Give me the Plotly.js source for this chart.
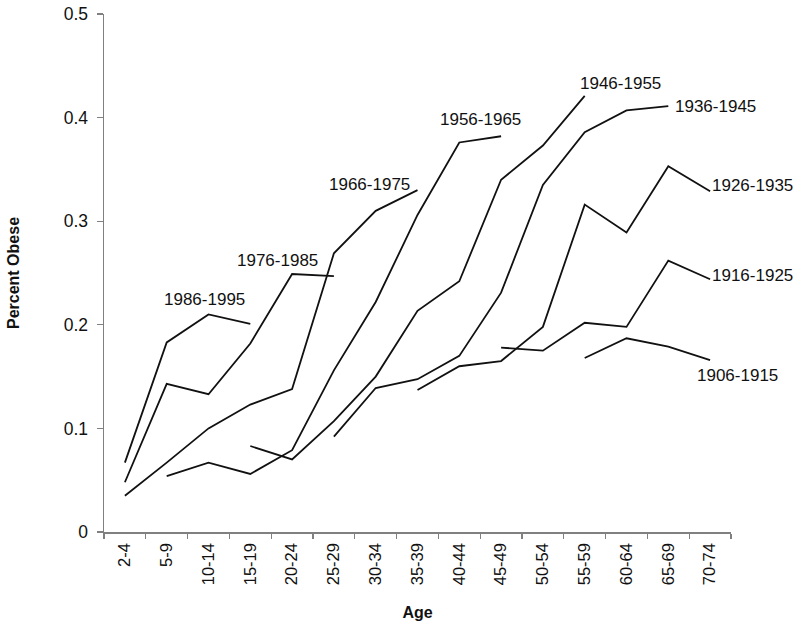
<!DOCTYPE html>
<html>
<head>
<meta charset="utf-8">
<script src="https://cdn.plot.ly/plotly-3.0.1.min.js"></script>
<style>html,body{margin:0;padding:0;background:#fff;}#chart{width:800px;height:627px;}</style>
</head>
<body>
<div id="chart"></div>
<script>
// Categories (age groups)
var ages = ["2-4","5-9","10-14","15-19","20-24","25-29","30-34","35-39","40-44","45-49","50-54","55-59","60-64","65-69","70-74"];

// Birth cohort series (percent obese, as fraction); null = not observed
var c1986_1995 = [0.067,0.183,0.210,0.201,null,null,null,null,null,null,null,null,null,null,null];
var c1976_1985 = [0.048,0.143,0.133,0.182,0.249,0.247,null,null,null,null,null,null,null,null,null];
var c1966_1975 = [0.035,0.067,0.100,0.123,0.138,0.269,0.310,0.330,null,null,null,null,null,null,null];
var c1956_1965 = [null,0.054,0.067,0.056,0.079,0.156,0.222,0.306,0.376,0.382,null,null,null,null,null];
var c1946_1955 = [null,null,null,0.083,0.070,0.107,0.150,0.2135,0.242,0.340,0.373,0.421,null,null,null];
var c1936_1945 = [null,null,null,null,null,0.092,0.139,0.1475,0.170,0.231,0.335,0.386,0.407,0.411,null];
var c1926_1935 = [null,null,null,null,null,null,null,0.137,0.160,0.165,0.198,0.316,0.289,0.353,0.329];
var c1916_1925 = [null,null,null,null,null,null,null,null,null,0.178,0.175,0.202,0.198,0.262,0.244];
var c1906_1915 = [null,null,null,null,null,null,null,null,null,null,null,0.168,0.187,0.179,0.166];

var cohortNames = ["1986-1995","1976-1985","1966-1975","1956-1965","1946-1955","1936-1945","1926-1935","1916-1925","1906-1915"];
var cohortValues = [c1986_1995,c1976_1985,c1966_1975,c1956_1965,c1946_1955,c1936_1945,c1926_1935,c1916_1925,c1906_1915];

var yTickVals = [0,0.1,0.2,0.3,0.4,0.5];
var yTickText = ["0","0.1","0.2","0.3","0.4","0.5"];

// label placement (paper coordinates) — layout only
var labelPos = [
  [0.1606,0.4485],[0.2775,0.525],[0.4242,0.6718],[0.5997,0.7954],[0.823,0.8649],
  [0.9745,0.8205],[1.0335,0.668],[1.0335,0.4961],[1.0104,0.3012]
];

var FONT = "Liberation Sans, Arial, sans-serif";

var traces = cohortValues.map(function(vals, i){
  return {
    x: ages, y: vals, type: "scatter", mode: "lines",
    name: cohortNames[i],
    line: {color: "#111111", width: 1.8},
    connectgaps: false, hoverinfo: "skip"
  };
});

var annotations = cohortNames.map(function(n, i){
  return {
    text: n, xref: "paper", yref: "paper",
    x: labelPos[i][0], y: labelPos[i][1],
    xanchor: "center", yanchor: "middle", showarrow: false,
    font: {family: FONT, size: 17, color: "#111111"}
  };
});

var layout = {
  width: 800, height: 627,
  margin: {l: 104, r: 69, t: 14, b: 95, pad: 0},
  paper_bgcolor: "#ffffff", plot_bgcolor: "#ffffff",
  showlegend: false,
  font: {family: FONT, size: 17, color: "#111111"},
  xaxis: {
    type: "category", categoryarray: ages, categoryorder: "array",
    range: [-0.5, 14.5],
    showgrid: false, zeroline: false,
    showline: true, linecolor: "#808080", linewidth: 1.5,
    ticks: "outside", tickson: "boundaries", ticklen: 5, tickcolor: "#808080", tickwidth: 1.2,
    tickangle: -90, ticklabelstandoff: 3,
    tickfont: {family: FONT, size: 16.5, color: "#111111"},
    title: {text: "<b>Age</b>", font: {family: FONT, size: 16, color: "#111111"}, standoff: 22}
  },
  yaxis: {
    range: [0, 0.5],
    tickvals: yTickVals, ticktext: yTickText,
    showgrid: false, zeroline: false,
    showline: true, linecolor: "#808080", linewidth: 1.5,
    ticks: "outside", ticklen: 6, tickcolor: "#808080", tickwidth: 1.2,
    ticklabelstandoff: 5,
    tickfont: {family: FONT, size: 17.5, color: "#111111"},
    title: {text: "<b>Percent Obese</b>", font: {family: FONT, size: 16, color: "#111111"}, standoff: 40}
  },
  annotations: annotations
};

Plotly.newPlot("chart", traces, layout, {displayModeBar: false, staticPlot: true});
</script>
</body>
</html>
